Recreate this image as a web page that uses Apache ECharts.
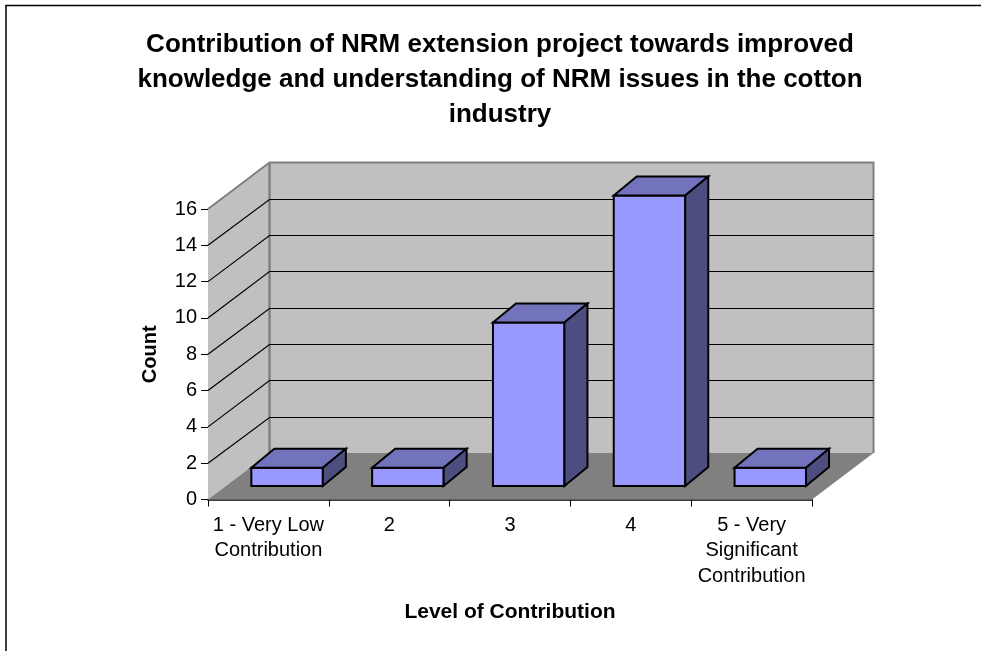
<!DOCTYPE html>
<html>
<head>
<meta charset="utf-8">
<style>
  html, body { margin: 0; padding: 0; background: #fff; }
  #main { width: 981px; height: 651px; }
</style>
</head>
<body>
<div id="main"></div>
<script src="https://cdn.jsdelivr.net/npm/echarts@6/dist/echarts.min.js"></script>
<script>
const titleText = 'Contribution of NRM extension project towards improved\nknowledge and understanding of NRM issues in the cotton\nindustry'
const categories = ['1 - Very Low\nContribution', '2', '3', '4', '5 - Very\nSignificant\nContribution']
const counts = [1, 1, 9, 16, 1]
const yTicks = [0, 2, 4, 6, 8, 10, 12, 14, 16]

// 伪3D的偏移量
const wallDx = 61.5, wallDy = -46.5
const barOffX = 18.7, barOffY = -13.5
const barDx = 23, barDy = -19
const barWidth = 71.5
const FONT = '"Liberation Sans", Arial, sans-serif'

function poly (points, fill, stroke, lineWidth) {
  return {
    type: 'polygon',
    shape: { points: points },
    style: { fill: fill, stroke: stroke || null, lineWidth: lineWidth || 0, lineJoin: 'miter' }
  }
}
function line (points, color, lineWidth) {
  return {
    type: 'polyline',
    shape: { points: points },
    style: { fill: null, stroke: color, lineWidth: lineWidth }
  }
}

function renderWalls (params) {
  const c = params.coordSys
  const l = c.x, r = c.x + c.width, t = c.y, b = c.y + c.height
  const bl = l + wallDx, br = r + wallDx, bt = t + wallDy, bb = b + wallDy
  return {
    type: 'group',
    children: [
      poly([[bl, bt], [br, bt], [br, bb], [bl, bb]], '#c0c0c0'),
      poly([[l, t], [bl, bt], [bl, bb], [l, b]], '#c0c0c0'),
      poly([[l, b], [r, b], [br, bb], [bl, bb]], '#808080'),
      line([[l, t], [bl, bt], [br, bt], [br, bb]], '#808080', 2),
      line([[bl, bt], [bl, bb]], '#808080', 2.5)
    ]
  }
}

function renderGridLine (params, api) {
  const c = params.coordSys
  const v = api.value(0)
  if (v === 0 || v === 16) return null
  const y = api.coord([0, v])[1]
  const by = Math.round(y + wallDy) + 0.5
  return line([[c.x, y], [c.x + wallDx, by], [c.x + c.width + wallDx, by]], '#000', 1.2)
}

function renderBar (params, api) {
  const top = api.coord([api.value(0), api.value(1)])
  const base = api.coord([api.value(0), 0])
  const x0 = top[0] + barOffX - barWidth / 2
  const x1 = x0 + barWidth
  const y0 = top[1] + barOffY
  const y1 = base[1] + barOffY
  const s = { stroke: '#000', width: 2 }
  return {
    type: 'group',
    children: [
      poly([[x0, y0], [x1, y0], [x1, y1], [x0, y1]], '#9999ff', s.stroke, s.width),
      poly([[x0, y0], [x0 + barDx, y0 + barDy], [x1 + barDx, y0 + barDy], [x1, y0]], '#7373bd', s.stroke, s.width),
      poly([[x1, y0], [x1 + barDx, y0 + barDy], [x1 + barDx, y1 + barDy], [x1, y1]], '#4d4d80', s.stroke, s.width)
    ]
  }
}

const option = {
  animation: false,
  backgroundColor: '#fff',
  title: {
    text: titleText,
    left: 495,
    top: 22,
    textAlign: 'center',
    textStyle: { fontFamily: FONT, fontSize: 26, fontWeight: 'bold', color: '#000', lineHeight: 35 }
  },
  grid: { left: 208, right: 169, top: 209, bottom: 151.5 },
  xAxis: {
    type: 'category',
    data: categories,
    name: 'Level of Contribution',
    nameLocation: 'middle',
    nameGap: 102,
    nameTextStyle: { fontFamily: FONT, fontSize: 21, fontWeight: 'bold', color: '#000' },
    axisLine: { lineStyle: { color: '#000', width: 1.5 } },
    axisTick: { show: true, length: 7, lineStyle: { color: '#000' } },
    axisLabel: { interval: 0, margin: 13, fontFamily: FONT, fontSize: 20, lineHeight: 25.5, color: '#000' }
  },
  yAxis: {
    type: 'value',
    min: 0,
    max: 16,
    interval: 2,
    name: 'Count',
    nameLocation: 'middle',
    nameGap: 48,
    nameTextStyle: { fontFamily: FONT, fontSize: 20, fontWeight: 'bold', color: '#000' },
    splitLine: { show: false },
    axisLine: { show: true, lineStyle: { color: '#000', width: 1 } },
    axisTick: { show: true, length: 7, lineStyle: { color: '#000' } },
    axisLabel: { margin: 11, fontFamily: FONT, fontSize: 20, color: '#000' }
  },
  series: [
    { type: 'custom', silent: true, z: 1, renderItem: renderWalls, data: [0] },
    { type: 'custom', silent: true, z: 2, renderItem: renderGridLine, data: yTicks.map(v => [v]), encode: { y: 0 } },
    { type: 'custom', silent: true, z: 3, renderItem: renderBar, data: counts.map((v, i) => [i, v]), encode: { x: 0, y: 1 } }
  ],
  graphic: [
    {
      type: 'rect',
      silent: true,
      shape: { x: 6, y: 5.5, width: 1000, height: 700 },
      style: { fill: null, stroke: '#000', lineWidth: 1.5 }
    }
  ]
}

const myChart = echarts.init(document.getElementById('main'))
myChart.setOption(option)
</script>
</body>
</html>
